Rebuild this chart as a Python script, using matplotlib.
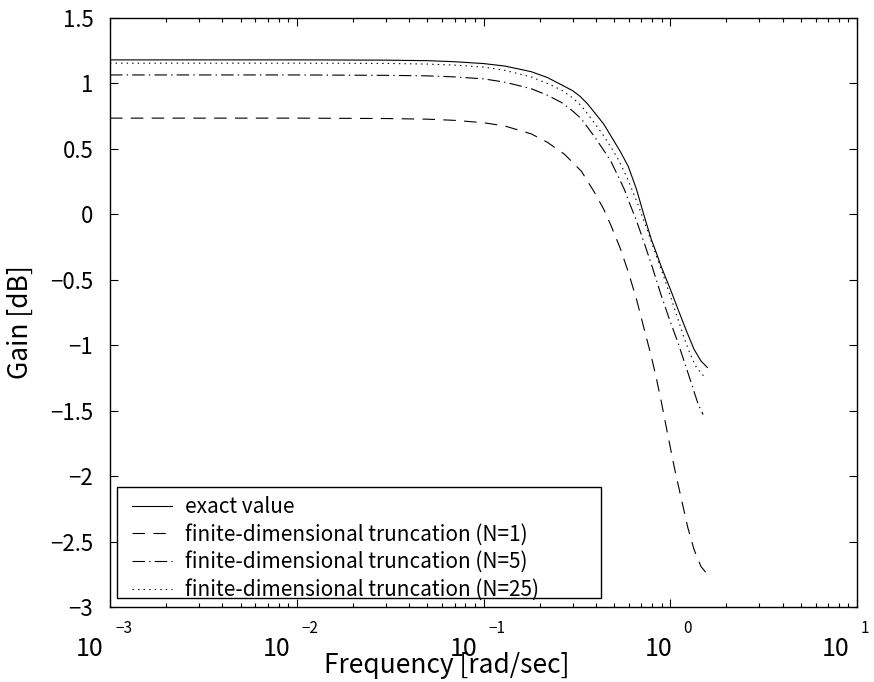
import numpy as np
import matplotlib
matplotlib.use("Agg")
import matplotlib.pyplot as plt
from matplotlib.patches import Rectangle
from matplotlib.transforms import blended_transform_factory, ScaledTranslation

plt.rcParams["font.family"] = ["Noto Sans CJK JP", "DejaVu Sans"]
plt.rcParams["lines.scale_dashes"] = False

# ---- data (frequency [rad/sec], gain [dB]) ----
f_exact = [0.001, 0.01, 0.03, 0.05, 0.07, 0.1, 0.13, 0.18, 0.22, 0.261, 0.30,
           0.33, 0.36, 0.392, 0.44, 0.483, 0.54, 0.596, 0.66, 0.726, 0.791,
           0.85, 0.895, 1.0, 1.10, 1.22, 1.34, 1.46, 1.58]
g_exact = [1.18, 1.18, 1.178, 1.174, 1.166, 1.152, 1.133, 1.09, 1.045, 0.99,
           0.945, 0.90, 0.845, 0.78, 0.69, 0.595, 0.48, 0.366, 0.19, -0.015,
           -0.19, -0.31, -0.40, -0.57, -0.725, -0.89, -1.03, -1.12, -1.17]

f_n1 = [0.001, 0.01, 0.03, 0.05, 0.07, 0.1, 0.13, 0.18, 0.22, 0.271, 0.334,
        0.392, 0.44, 0.483, 0.54, 0.596, 0.66, 0.726, 0.79, 0.842, 0.895,
        0.975, 1.05, 1.145, 1.24, 1.34, 1.46, 1.58]
g_n1 = [0.735, 0.735, 0.732, 0.727, 0.718, 0.70, 0.675, 0.615, 0.55, 0.46,
        0.33, 0.17, 0.04, -0.09, -0.26, -0.44, -0.65, -0.88, -1.08, -1.25,
        -1.43, -1.70, -1.93, -2.17, -2.39, -2.56, -2.69, -2.75]

f_n5 = [0.001, 0.01, 0.03, 0.05, 0.07, 0.1, 0.13, 0.18, 0.22, 0.261, 0.30,
        0.334, 0.392, 0.44, 0.483, 0.53, 0.568, 0.596, 0.66, 0.726, 0.80,
        0.895, 1.0, 1.10, 1.25, 1.41, 1.50]
g_n5 = [1.065, 1.065, 1.062, 1.058, 1.05, 1.035, 1.01, 0.96, 0.91, 0.855,
        0.79, 0.73, 0.595, 0.49, 0.40, 0.28, 0.19, 0.11, -0.05, -0.22, -0.40,
        -0.62, -0.82, -0.98, -1.22, -1.45, -1.53]

f_n25 = [0.001, 0.01, 0.03, 0.05, 0.07, 0.1, 0.13, 0.18, 0.22, 0.261, 0.30,
         0.334, 0.392, 0.44, 0.483, 0.527, 0.596, 0.674, 0.74, 0.82, 0.9,
         1.01, 1.1, 1.19, 1.29, 1.38, 1.52]
g_n25 = [1.155, 1.155, 1.153, 1.148, 1.14, 1.125, 1.10, 1.05, 1.00, 0.95,
         0.89, 0.83, 0.70, 0.60, 0.51, 0.42, 0.26, 0.07, -0.09, -0.27, -0.43,
         -0.64, -0.80, -0.95, -1.08, -1.17, -1.24]

labels = ["exact value",
          "finite-dimensional truncation (N=1)",
          "finite-dimensional truncation (N=5)",
          "finite-dimensional truncation (N=25)"]

yticks = [-3, -2.5, -2, -1.5, -1, -0.5, 0, 0.5, 1, 1.5]
decades = [-3, -2, -1, 0, 1]

fig = plt.figure(figsize=(8.74, 6.82), dpi=100)
ax = fig.add_axes([110 / 874, 1 - 607 / 682, 747 / 874, 589 / 682])

ax.plot(f_exact, g_exact, color="black", lw=0.8, ls="-", label=labels[0])
ax.plot(f_n1, g_n1, color="black", lw=0.8, ls=(0, (9, 6)), label=labels[1])
ax.plot(f_n5, g_n5, color="black", lw=0.8, ls=(0, (9, 3, 1, 3)), label=labels[2])
ax.plot(f_n25, g_n25, color="black", lw=0.8, ls=(0, (1, 3)), label=labels[3])

ax.set_xscale("log")
ax.set_xlim(1e-3, 1e1)
ax.set_ylim(-3, 1.5)
ax.set_yticks(yticks)
ax.set_yticklabels([f"{v:g}".replace("-", "\u2212") for v in yticks])
ax.set_xticks([10.0 ** d for d in decades])
ax.set_xticklabels([])

ax.tick_params(which="both", direction="in", top=True, right=True, width=0.8)
ax.tick_params(which="major", length=6, labelsize=16, pad=12)
ax.tick_params(which="minor", length=3)
for s in ax.spines.values():
    s.set_linewidth(1.0)

# x tick labels: "10" with a raised exponent, MATLAB style
tr = blended_transform_factory(ax.transData, ax.transAxes)
for d in decades:
    exp = str(d).replace("-", "\u2212")
    dx = 2 if d >= 0 else -6
    if d == decades[-1]:
        dx = -7
    base_tr = tr + ScaledTranslation(dx / 100, -49 / 100, fig.dpi_scale_trans)
    ax.text(10.0 ** d, 0, "10", transform=base_tr, ha="right", va="baseline",
            fontsize=18, clip_on=False)
    exp_tr = tr + ScaledTranslation((dx + 11) / 100, -26 / 100, fig.dpi_scale_trans)
    ax.text(10.0 ** d, 0, exp, transform=exp_tr, ha="left", va="baseline",
            fontsize=11, clip_on=False)

fig.text(447 / 874, 1 - 673 / 682, "Frequency [rad/sec]", ha="center",
         va="baseline", fontsize=19)
fig.text(20 / 874, 1 - 322 / 682, "Gain [dB]", rotation=90, ha="center",
         va="center", fontsize=19)

# legend: frame drawn separately so the entries sit where MATLAB put them
ax.add_patch(Rectangle((7 / 747, 9 / 589), 484 / 747, 111 / 589,
                       transform=ax.transAxes, facecolor="white",
                       edgecolor="black", lw=1.0, zorder=4))
leg = ax.legend(loc="upper left", bbox_to_anchor=(22 / 747, 111 / 589),
                borderaxespad=0, borderpad=0, frameon=False, fontsize=15,
                handlelength=1.92, handletextpad=0.62, labelspacing=0.27)
leg.set_zorder(5)

fig.savefig("out.png", dpi=100)
